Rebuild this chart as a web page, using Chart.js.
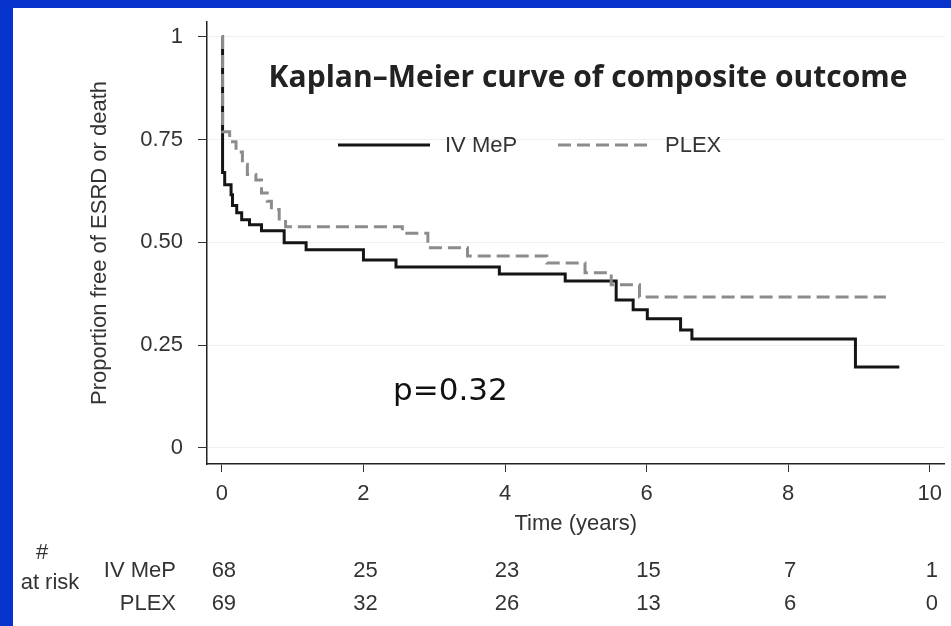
<!DOCTYPE html>
<html>
<head>
<meta charset="utf-8">
<script src="https://cdn.jsdelivr.net/npm/chart.js@4.4.1/dist/chart.umd.min.js"></script>
<style>
  html, body { margin: 0; padding: 0; background: #0533cc; overflow: hidden; }
  #wrap { position: absolute; left: 13px; top: 8px; width: 938px; height: 618px; background: #fff; }
</style>
</head>
<body>
<div id="wrap"><canvas id="km"></canvas></div>
<script>
// survival steps (time in years, proportion free)
const ivMepTimes = [0, 0.01, 0.04, 0.13, 0.15, 0.21, 0.28, 0.39, 0.56, 0.88, 1.19, 2.0, 2.46, 3.92, 4.85, 5.57, 5.81, 6.01, 6.48, 6.64, 8.95, 9.57];
const ivMepSurv  = [1, 0.67, 0.64, 0.616, 0.59, 0.572, 0.555, 0.543, 0.528, 0.499, 0.482, 0.457, 0.44, 0.423, 0.406, 0.36, 0.336, 0.314, 0.287, 0.265, 0.197, 0.197];

const plexTimes = [0, 0.01, 0.11, 0.2, 0.29, 0.36, 0.48, 0.56, 0.64, 0.7, 0.81, 0.9, 2.55, 2.91, 3.47, 4.59, 5.13, 5.5, 5.9, 9.38];
const plexSurv  = [1, 0.769, 0.745, 0.72, 0.69, 0.665, 0.652, 0.62, 0.6, 0.58, 0.557, 0.538, 0.522, 0.487, 0.467, 0.45, 0.426, 0.397, 0.367, 0.367];

const xTicks = [0, 2, 4, 6, 8, 10];
const yTicks = [0, 0.25, 0.5, 0.75, 1];
const yTickLabels = ['0', '0.25', '0.50', '0.75', '1'];

const groups = ['IV MeP', 'PLEX'];
const ivMepAtRisk = [68, 25, 23, 15, 7, 1];
const plexAtRisk  = [69, 32, 26, 13, 6, 0];

const chartTitle = 'Kaplan\u2013Meier curve of composite outcome';
const pValue = 'p=0.32';

const SANS = "'Liberation Sans', Arial, sans-serif";

function toPoints(ts, ss) {
    return ts.map((t, i) => ({ x: t, y: ss[i] }));
}

// title, legend, p value and the numbers-at-risk table
const extras = {
    id: 'extras',
    afterDraw(chart) {
        const ctx = chart.ctx;
        const x = chart.scales.x;
        ctx.save();

        ctx.fillStyle = '#222';
        ctx.font = "bold 30px 'Open Sans', sans-serif";
        ctx.textAlign = 'center';
        ctx.textBaseline = 'middle';
        ctx.fillText(chartTitle, 575, 70);

        // legend
        const ds = chart.data.datasets;
        const items = [{ ds: ds[1], x0: 325, tx: 432 }, { ds: ds[0], x0: 545, tx: 652 }];
        ctx.font = '22px ' + SANS;
        ctx.textAlign = 'left';
        items.forEach(it => {
            ctx.beginPath();
            ctx.strokeStyle = it.ds.borderColor;
            ctx.lineWidth = it.ds.borderWidth;
            ctx.setLineDash(it.ds.borderDash || []);
            ctx.moveTo(it.x0, 137);
            ctx.lineTo(it.x0 + 92, 137);
            ctx.stroke();
            ctx.setLineDash([]);
            ctx.fillStyle = '#333';
            ctx.fillText(it.ds.label, it.tx, 138);
        });

        ctx.fillStyle = '#111';
        ctx.font = '31px DejaVu Sans, sans-serif';
        ctx.fillText(pValue, 380, 384);

        // numbers at risk
        ctx.fillStyle = '#333';
        ctx.font = '22px ' + SANS;
        ctx.textAlign = 'center';
        ctx.fillText('#', 29, 545);
        ctx.fillText('at risk', 37, 575);
        ctx.textAlign = 'right';
        ctx.fillText(groups[0], 163, 563);
        ctx.fillText(groups[1], 163, 596);
        ctx.textAlign = 'center';
        xTicks.forEach((t, i) => {
            const px = x.getPixelForValue(t);
            ctx.fillText(String(ivMepAtRisk[i]), px + 2, 563);
            ctx.fillText(String(plexAtRisk[i]), px + 2, 596);
        });
        ctx.restore();
    }
};

new Chart(document.getElementById('km'), {
    type: 'line',
    data: {
        datasets: [
            {
                label: groups[1],
                data: toPoints(plexTimes, plexSurv),
                borderColor: '#8c8c8c',
                borderWidth: 3,
                borderDash: [13, 6],
                stepped: 'before',
                pointRadius: 0,
                fill: false,
                order: 1
            },
            {
                label: groups[0],
                data: toPoints(ivMepTimes, ivMepSurv),
                borderColor: '#151515',
                borderWidth: 3,
                stepped: 'before',
                pointRadius: 0,
                fill: false,
                order: 2
            }
        ]
    },
    options: {
        responsive: true,
        maintainAspectRatio: false,
        animation: false,
        layout: { padding: { top: 14, right: 0, bottom: 70, left: 0 } },
        plugins: {
            legend: { display: false },
            tooltip: { enabled: false }
        },
        scales: {
            x: {
                type: 'linear',
                min: -0.21,
                max: 10.21,
                afterBuildTicks: s => { s.ticks = xTicks.map(v => ({ value: v })); },
                afterFit: s => { s.height = 92; },
                border: { color: '#222', width: 1.5 },
                grid: { drawOnChartArea: false, tickLength: 8, tickColor: '#333' },
                ticks: { color: '#333', padding: 9, font: { family: SANS, size: 22 }, maxRotation: 0 },
                title: {
                    display: true,
                    text: 'Time (years)',
                    color: '#333',
                    font: { family: SANS, size: 22 },
                    padding: { top: 0, bottom: 19 }
                }
            },
            y: {
                min: -0.039,
                max: 1.036,
                afterBuildTicks: s => { s.ticks = yTicks.map(v => ({ value: v })); },
                afterFit: s => {
                    s.width = 194;
                    // 0 and 1 sit inside the axis ends, no room needed for their labels
                    s.paddingTop = 0;
                    s.paddingBottom = 0;
                },
                border: { color: '#222', width: 1.5 },
                grid: { color: '#efefef', lineWidth: 1, tickLength: 9, tickColor: '#333' },
                ticks: {
                    color: '#333',
                    padding: 15,
                    font: { family: SANS, size: 22 },
                    callback: (v) => yTickLabels[yTicks.indexOf(v)]
                },
                title: {
                    display: true,
                    text: 'Proportion free of ESRD or death',
                    color: '#333',
                    font: { family: SANS, size: 22 },
                    padding: { top: 74, bottom: 0 }
                }
            }
        }
    },
    plugins: [extras]
});
</script>
</body>
</html>
